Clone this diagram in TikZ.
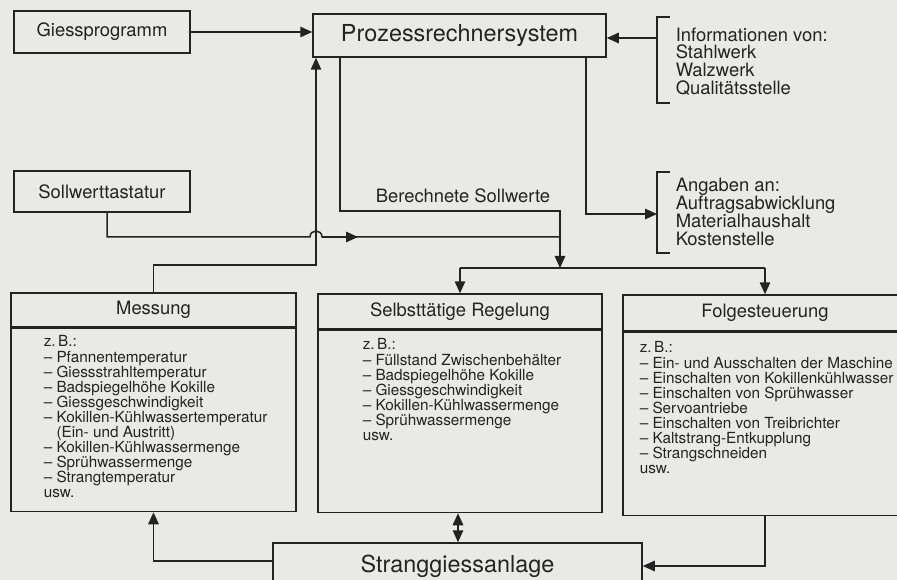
\documentclass[tikz,border=0pt]{standalone}
\usepackage{fontspec}
\setmainfont{TeX Gyre Heros}
\usetikzlibrary{arrows.meta}
\definecolor{paper}{RGB}{233,233,229}
\definecolor{ink}{RGB}{35,35,35}
\newcommand{\bigfont}{\fontsize{23.4}{25}\selectfont}
\newcommand{\labfont}{\fontsize{18.4}{17.8}\selectfont}
\newcommand{\listfont}{\fontsize{15.3}{15.1}\selectfont}
\tikzset{
  box/.style={draw=ink, inner sep=0pt, font=\labfont},
  listtext/.style={anchor=north west, align=left, inner sep=0pt, font=\listfont},
  plain/.style={anchor=west, align=left, inner sep=0pt, font=\labfont},
  arr/.style={-{Triangle[length=12pt,width=10.5pt]}},
  darr/.style={{Triangle[length=12pt,width=10.5pt]}-{Triangle[length=12pt,width=10.5pt]}},
}

\begin{document}
\begin{tikzpicture}[x=1pt,y=-1pt,line width=1.5pt,color=ink]
  \fill[paper] (0,0) rectangle (897,580);
  \useasboundingbox (0,0) rectangle (897,580);

  \node[box, minimum width=176pt, minimum height=42pt] (giess) at (102,32) {Giessprogramm};
  \node[box, minimum width=176pt, minimum height=41pt] (soll) at (102,191.5) {Sollwerttastatur};
  \node[box, minimum width=293pt, minimum height=43pt, font=\bigfont] (prozess) at (459.5,35.5) {Prozessrechnersystem};

  \node[plain] (info) at (675,61.5) {Informationen von:\\Stahlwerk\\Walzwerk\\Qualitätsstelle};
  \node[plain] (angaben) at (675,212) {Angaben an:\\Auftragsabwicklung\\Materialhaushalt\\Kostenstelle};
  \node[plain, anchor=center] (berechnet) at (463,196) {Berechnete Sollwerte};
  \draw (670,17) -- (657,17) -- (657,103) -- (670,103);
  \draw (670,172) -- (657,172) -- (657,253) -- (670,253);

  \node[box, minimum width=285pt, minimum height=34pt] (messung) at (153.5,310) {Messung};
  \node[box, minimum width=285pt, minimum height=183pt, anchor=north] (mbody) at (messung.south) {};
  \node[listtext] (mlist) at (43,335) {z.\,B.:\\– Pfannentemperatur\\– Giessstrahltemperatur\\– Badspiegelhöhe Kokille\\– Giessgeschwindigkeit\\– Kokillen-Kühlwassertemperatur\\\phantom{– }(Ein- und Austritt)\\– Kokillen-Kühlwassermenge\\– Sprühwassermenge\\– Strangtemperatur\\usw.};

  \node[box, minimum width=284pt, minimum height=35pt] (selbst) at (460,311.5) {Selbsttätige Regelung};
  \node[box, minimum width=284pt, minimum height=182pt, anchor=north] (sbody) at (selbst.south) {};
  \node[listtext] (slist) at (362,338) {z.\,B.:\\– Füllstand Zwischenbehälter\\– Badspiegelhöhe Kokille\\– Giessgeschwindigkeit\\– Kokillen-Kühlwassermenge\\– Sprühwassermenge\\usw.};

  \node[box, minimum width=284pt, minimum height=36pt] (folge) at (765,313) {Folgesteuerung};
  \node[box, minimum width=284pt, minimum height=183pt, anchor=north] (fbody) at (folge.south) {};
  \node[listtext] (flist) at (639,341) {z.\,B.:\\– Ein- und Ausschalten der Maschine\\– Einschalten von Kokillenkühlwasser\\– Einschalten von Sprühwasser\\– Servoantriebe\\– Einschalten von Treibrichter\\– Kaltstrang-Entkupplung\\– Strangschneiden\\usw.};

  \node[box, minimum width=369pt, minimum height=46pt, font=\bigfont] (strang) at (457.5,566) {Stranggiessanlage};

  \coordinate (infoin) at (657,38);
  \coordinate (angin) at (657,214);
  \coordinate (mk) at (316,265);
  \coordinate (bs) at (560,211);
  \coordinate (join) at (560,237);
  \coordinate (bar) at (560,268);
  \coordinate (hopa) at (310,237);
  \coordinate (hopb) at (322,237);

  \draw[arr] (giess.east) -- (giess.east -| prozess.west);
  \draw[arr] (infoin) -- (infoin -| prozess.east);
  \draw[arr] ([xshift=126.5pt]prozess.south) |- (angin);
  \draw[arr] (messung.north) |- (mk) -- (mk |- prozess.south);
  \draw ([xshift=-119.5pt]prozess.south) |- (bs) -- (join);
  \draw ([xshift=5pt]soll.south) |- (hopa) .. controls (310,229) and (322,229) .. (hopb) -- (join);
  \draw[arr] (hopb) -- (358,237);
  \draw[arr] (join) -- (bar);
  \draw (bar -| selbst.north) -- (bar -| folge.north);
  \draw[arr] (bar -| selbst.north) -- (selbst.north);
  \draw[arr] (bar -| folge.north) -- (folge.north);
  \draw[darr] ([xshift=-2pt]sbody.south) -- ([xshift=-2pt]sbody.south |- strang.north);
  \draw[arr] ([yshift=5pt]strang.west) -| (mbody.south);
  \draw[arr] (fbody.south) |- (strang.east);
\end{tikzpicture}
\end{document}
